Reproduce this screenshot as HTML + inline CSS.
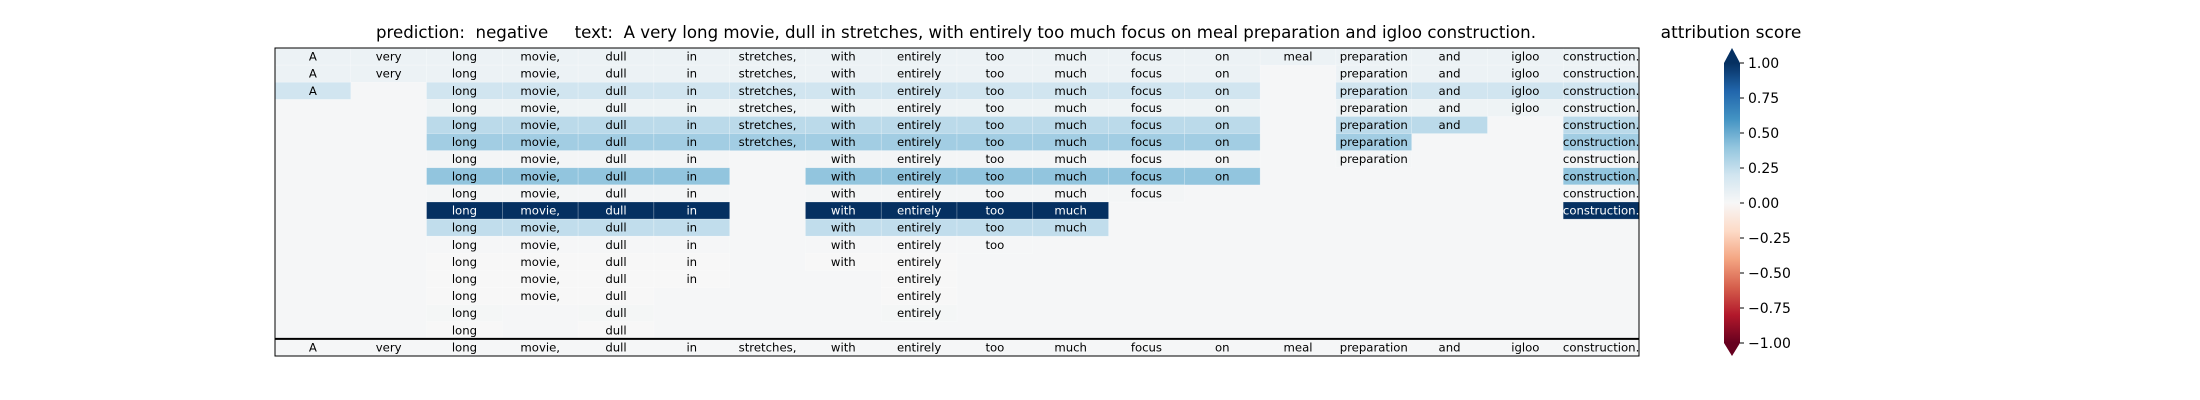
<!DOCTYPE html>
<html><head><meta charset="utf-8"><style>
html,body{margin:0;padding:0;background:#fff;}
svg{display:block;font-family:"DejaVu Sans","Liberation Sans",sans-serif;}
</style></head><body>
<svg id="fig" width="2200" height="400" viewBox="0 0 2200 400" xmlns="http://www.w3.org/2000/svg">
<rect width="2200" height="400" fill="#fff"/>
<text x="956" y="38" font-size="17" text-anchor="middle" textLength="1160" lengthAdjust="spacingAndGlyphs" style="white-space:pre" xml:space="preserve">prediction:  negative     text:  A very long movie, dull in stretches, with entirely too much focus on meal preparation and igloo construction.</text>
<text x="1731" y="38" font-size="17" text-anchor="middle">attribution score</text>
<g id="grid"></g>
<g id="cbar"></g>
</svg>
<script>
const tokens = ["A","very","long","movie,","dull","in","stretches,","with","entirely","too","much","focus","on","meal","preparation","and","igloo","construction."];
const rowTokens = [
 [0,1,2,3,4,5,6,7,8,9,10,11,12,13,14,15,16,17],
 [0,1,2,3,4,5,6,7,8,9,10,11,12,14,15,16,17],
 [0,2,3,4,5,6,7,8,9,10,11,12,14,15,16,17],
 [2,3,4,5,6,7,8,9,10,11,12,14,15,16,17],
 [2,3,4,5,6,7,8,9,10,11,12,14,15,17],
 [2,3,4,5,6,7,8,9,10,11,12,14,17],
 [2,3,4,5,7,8,9,10,11,12,14,17],
 [2,3,4,5,7,8,9,10,11,12,17],
 [2,3,4,5,7,8,9,10,11,17],
 [2,3,4,5,7,8,9,10,17],
 [2,3,4,5,7,8,9,10],
 [2,3,4,5,7,8,9],
 [2,3,4,5,7,8],
 [2,3,4,5,8],
 [2,3,4,8],
 [2,4,8],
 [2,4]
];
const rowValues = [0.06,0.06,0.2,0.05,0.27,0.35,0.02,0.4,0.02,1.0,0.25,0.01,0.0,0.0,0.0,0.015,0.0];
const cbarTicks = [1,0.75,0.5,0.25,0,-0.25,-0.5,-0.75,-1];
const cbarLabels = ["1.00","0.75","0.50","0.25","0.00","\u22120.25","\u22120.50","\u22120.75","\u22121.00"];

const stops=["#67001f","#b2182b","#d6604d","#f4a582","#fddbc7","#f7f7f7","#d1e5f0","#92c5de","#4393c3","#2166ac","#053061"];
function hex(c){return [1,3,5].map(i=>parseInt(c.substr(i,2),16));}
function cmap(v){let t=(Math.max(-1,Math.min(1,v))+1)/2*10;let i=Math.min(9,Math.floor(t));let f=t-i;
 const a=hex(stops[i]),b=hex(stops[i+1]);return "rgb("+a.map((x,k)=>Math.round(x+(b[k]-x)*f)).join(",")+")";}
const NS="http://www.w3.org/2000/svg";
function mk(tag,attrs,parent){const e=document.createElementNS(NS,tag);for(const k in attrs)e.setAttribute(k,attrs[k]);parent.appendChild(e);return e;}
const X0=275,X1=1639,Y0=48,Y1=356,nRows=rowTokens.length+1;
const cw=(X1-X0)/tokens.length, rh=(Y1-Y0)/nRows;
const xs=i=>X0+i*cw, ys=r=>Y0+r*rh;
const g=document.getElementById('grid');
mk('rect',{x:X0,y:Y0,width:X1-X0,height:Y1-Y0,fill:"#f5f6f7"},g);
rowTokens.forEach((toks,r)=>{
 const v=rowValues[r];
 toks.forEach(i=>{
  const c=mk('rect',{x:xs(i),y:ys(r),width:cw,height:rh,fill:cmap(v),stroke:"rgba(255,255,255,0.35)","stroke-width":0.6},g);
  
  
  const t=mk('text',{x:xs(i)+cw/2,y:ys(r)+rh/2+4,"font-size":11.7,"text-anchor":"middle",fill:v>0.6?"#fff":"#000"},g);
  t.textContent=tokens[i];
  
  
 });
});
const br=nRows-1;
tokens.forEach((tk,i)=>{
 const t=mk('text',{x:xs(i)+cw/2,y:ys(br)+rh/2+4,"font-size":11.7,"text-anchor":"middle"},g);
 t.textContent=tk;
 
 
});
mk('line',{x1:X0,x2:X1,y1:ys(br),y2:ys(br),stroke:"#000","stroke-width":2},g);
mk('rect',{x:X0,y:Y0,width:X1-X0,height:Y1-Y0,fill:"none",stroke:"#000","stroke-width":1},g);

const cb=document.getElementById('cbar');
const CX0=1724,CX1=1740,CT=63,CB=343;
const cy=v=>CT+(1-v)/2*(CB-CT);
const defs=mk('defs',{},cb);
const lg=mk('linearGradient',{id:"rdbu",x1:0,y1:1,x2:0,y2:0},defs);
stops.forEach((s,i)=>mk('stop',{offset:i/10,"stop-color":s},lg));
mk('rect',{x:CX0,y:CT,width:CX1-CX0,height:CB-CT,fill:"url(#rdbu)"},cb);
mk('polygon',{points:`${CX0},${CT} ${CX1},${CT} ${(CX0+CX1)/2},48`,fill:stops[10]},cb);
mk('polygon',{points:`${CX0},${CB} ${CX1},${CB} ${(CX0+CX1)/2},356`,fill:stops[0]},cb);
cbarTicks.forEach((v,k)=>{
 mk('line',{x1:CX1,x2:CX1+4,y1:cy(v),y2:cy(v),stroke:"#000","stroke-width":1},cb);
 const t=mk('text',{x:CX1+8,y:cy(v)+5,"font-size":14},cb);
 t.textContent=cbarLabels[k];
 
 
});
</script>
</body></html>
